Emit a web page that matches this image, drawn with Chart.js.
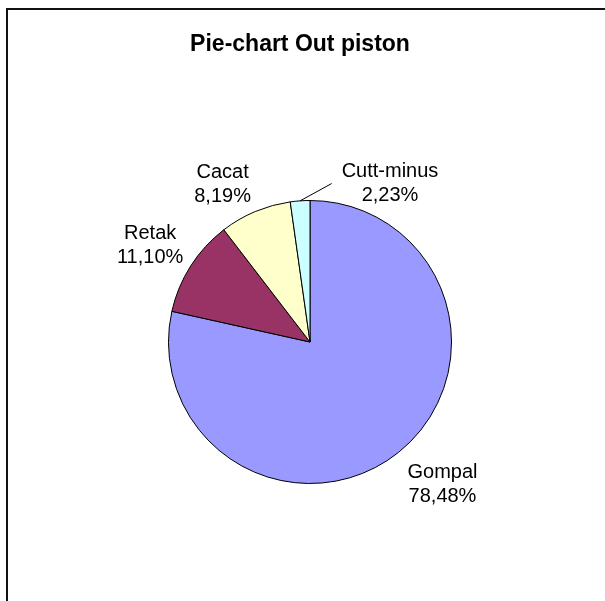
<!DOCTYPE html>
<html>
<head>
<meta charset="utf-8">
<script src="https://cdn.jsdelivr.net/npm/chart.js@4/dist/chart.umd.min.js"></script>
<style>
  html, body { margin: 0; padding: 0; background: #ffffff; }
  #wrap { width: 605px; height: 601px; position: relative; }
</style>
</head>
<body>
<div id="wrap"><canvas id="c" width="605" height="601"></canvas></div>
<script>
// Out piston defects, share of total (%)
const categories = ['Gompal', 'Retak', 'Cacat', 'Cutt-minus'];
const shares = [78.48, 11.10, 8.19, 2.23];
const chartTitle = 'Pie-chart Out piston';

// Styling
const sliceColors = ['#9999FF', '#993366', '#FFFFCC', '#CCFFFF'];
const FONT = '"Liberation Sans", Arial, sans-serif';
// distance of each label centre beyond the rim (px)
const labelGap = [53, 45, 39, 36];
// angular shift of each label from its slice middle (degrees);
// a large shift means the label is pulled away and gets a leader line
const labelTurn = [-4.2, -1.5, -6.2, 30.8];

function fmtPct(v) {
  return v.toFixed(2).replace('.', ',') + '%';
}

const decorPlugin = {
  id: 'decor',
  beforeDraw(chart) {
    const ctx = chart.ctx;
    ctx.save();
    ctx.fillStyle = '#ffffff';
    ctx.fillRect(0, 0, chart.width, chart.height);
    // frame (open to the right and bottom)
    ctx.fillStyle = '#111111';
    ctx.fillRect(6, 8, chart.width, 2);
    ctx.fillRect(6, 8, 2, chart.height);
    // title
    ctx.fillStyle = '#000000';
    ctx.font = 'bold 23px ' + FONT;
    ctx.textAlign = 'center';
    ctx.textBaseline = 'middle';
    ctx.fillText(chartTitle, 300, 45);
    ctx.restore();
  },
  afterDatasetsDraw(chart) {
    const ctx = chart.ctx;
    const meta = chart.getDatasetMeta(0);
    ctx.save();
    ctx.font = '20px ' + FONT;
    ctx.fillStyle = '#000000';
    ctx.textAlign = 'center';
    ctx.textBaseline = 'middle';
    const lineH = 24;
    meta.data.forEach((arc, i) => {
      const p = arc.getProps(['x', 'y', 'startAngle', 'endAngle', 'outerRadius'], true);
      const mid = (p.startAngle + p.endAngle) / 2;
      const ang = mid + labelTurn[i] * Math.PI / 180;
      const d = p.outerRadius + labelGap[i];
      const cx = p.x + Math.cos(ang) * d;
      const cy = p.y + Math.sin(ang) * d;
      const lines = [categories[i], fmtPct(shares[i])];
      lines.forEach((t, k) => {
        ctx.fillText(t, cx, cy + (k - (lines.length - 1) / 2) * lineH);
      });
      if (Math.abs(labelTurn[i]) > 15) {
        const w = Math.max(...lines.map(t => ctx.measureText(t).width));
        const ex = p.x + Math.cos(mid) * p.outerRadius;
        const ey = p.y + Math.sin(mid) * p.outerRadius;
        ctx.beginPath();
        ctx.strokeStyle = '#000000';
        ctx.lineWidth = 1;
        ctx.moveTo(ex, ey);
        ctx.lineTo(cx - w / 2 - 10, cy);
        ctx.stroke();
      }
    });
    ctx.restore();
  }
};

new Chart(document.getElementById('c'), {
  type: 'pie',
  data: {
    labels: categories,
    datasets: [{
      data: shares,
      backgroundColor: sliceColors,
      borderColor: '#000000',
      borderWidth: 1,
      hoverOffset: 0
    }]
  },
  options: {
    responsive: false,
    animation: false,
    events: [],
    layout: { padding: { left: 168, right: 153, top: 200, bottom: 117 } },
    plugins: {
      legend: { display: false },
      title: { display: false },
      tooltip: { enabled: false }
    }
  },
  plugins: [decorPlugin]
});
</script>
</body>
</html>
